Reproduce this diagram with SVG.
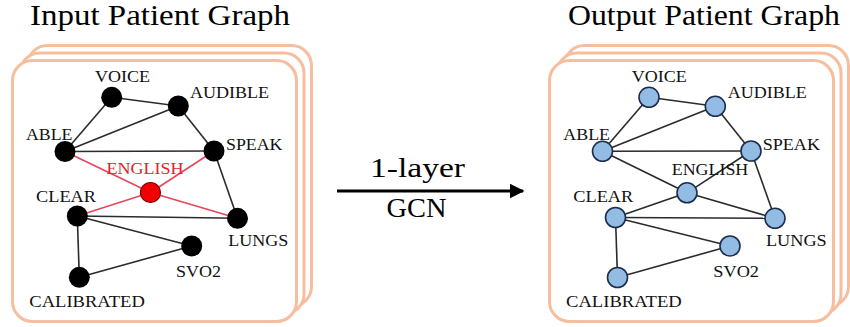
<svg xmlns="http://www.w3.org/2000/svg" width="850" height="327" viewBox="0 0 850 327">
<style>
.frame{fill:#ffffff;stroke:#F6BE9E;stroke-width:3}
.title{font-family:"Liberation Serif","Times New Roman",Times,serif;font-size:29px;fill:#000}
.lbl{font-family:"Liberation Serif","Times New Roman",Times,serif;font-size:17px;fill:#111}
.red{fill:#E5202E}
.e{stroke:#2b2b2b;stroke-width:1.6;fill:none}
.er{stroke:#E8455C;stroke-width:1.6;fill:none}
.nb{fill:#000}
.nr{fill:#F00000;stroke:#7a0000;stroke-width:1.2}
.nl{fill:#93BCE4;stroke:#1C2E4A;stroke-width:1.6}
.big{font-family:"Liberation Serif","Times New Roman",Times,serif;font-size:28px;fill:#000}
</style>
<defs>
<marker id="ah" markerWidth="5" markerHeight="5" refX="4.5" refY="2.5" orient="auto" markerUnits="strokeWidth">
<path d="M0,0 L5,2.5 L0,5 z" fill="#000"/>
</marker>
</defs>

<!-- Frames -->
<g id="input-frames">
<rect class="frame" x="27.5" y="45.5" width="284" height="261" rx="20"/>
<rect class="frame" x="20" y="53" width="284" height="261" rx="20"/>
<rect class="frame" x="12.5" y="60.5" width="284" height="261" rx="20"/>
</g>
<g id="output-frames">
<rect class="frame" x="564.5" y="45.5" width="284" height="261" rx="20"/>
<rect class="frame" x="557" y="53" width="284" height="261" rx="20"/>
<rect class="frame" x="549.5" y="60.5" width="284" height="261" rx="20"/>
</g>

<text id="title-input" class="title" x="30" y="25" textLength="260" lengthAdjust="spacingAndGlyphs">Input Patient Graph</text>
<text id="title-output" class="title" x="568" y="25" textLength="272" lengthAdjust="spacingAndGlyphs">Output Patient Graph</text>

<!-- Connectors -->
<g id="connectors">
<!-- input graph -->
<line class="e" x1="111.7" y1="97.3" x2="65" y2="151.5"/>
<line class="e" x1="111.7" y1="97.3" x2="178.3" y2="106"/>
<line class="e" x1="178.3" y1="106" x2="65" y2="151.5"/>
<line class="e" x1="178.3" y1="106" x2="214" y2="151"/>
<line class="e" x1="65" y1="151.5" x2="214" y2="151"/>
<line class="e" x1="214" y1="151" x2="237.5" y2="218.3"/>
<line class="e" x1="77.3" y1="216" x2="237.5" y2="218.3"/>
<line class="e" x1="77.3" y1="216" x2="191.7" y2="246"/>
<line class="e" x1="77.3" y1="216" x2="79.3" y2="277.3"/>
<line class="e" x1="79.3" y1="277.3" x2="191.7" y2="246"/>
<line class="er" x1="65" y1="151.5" x2="150.5" y2="192.5"/>
<line class="er" x1="150.5" y1="192.5" x2="237.5" y2="218.3"/>
<line class="er" x1="214" y1="151" x2="150.5" y2="192.5"/>
<line class="er" x1="150.5" y1="192.5" x2="77.3" y2="216"/>
<!-- output graph -->
<line class="e" x1="649" y1="97.3" x2="602.5" y2="151.3"/>
<line class="e" x1="649" y1="97.3" x2="715.3" y2="106.3"/>
<line class="e" x1="715.3" y1="106.3" x2="602.5" y2="151.3"/>
<line class="e" x1="715.3" y1="106.3" x2="751" y2="151"/>
<line class="e" x1="602.5" y1="151.3" x2="751" y2="151"/>
<line class="e" x1="751" y1="151" x2="775" y2="218.3"/>
<line class="e" x1="615.5" y1="217.5" x2="775" y2="218.3"/>
<line class="e" x1="615.5" y1="217.5" x2="730" y2="246"/>
<line class="e" x1="615.5" y1="217.5" x2="617.5" y2="277.5"/>
<line class="e" x1="617.5" y1="277.5" x2="730" y2="246"/>
<line class="e" x1="602.5" y1="151.3" x2="687" y2="192.8"/>
<line class="e" x1="687" y1="192.8" x2="775" y2="218.3"/>
<line class="e" x1="751" y1="151" x2="687" y2="192.8"/>
<line class="e" x1="687" y1="192.8" x2="615.5" y2="217.5"/>
<!-- GCN arrow -->
<line x1="337" y1="191" x2="523" y2="191" stroke="#000" stroke-width="3" marker-end="url(#ah)"/>
</g>

<text id="gcn-top" class="big" x="370" y="176.5" textLength="95" lengthAdjust="spacingAndGlyphs">1-layer</text>
<text id="gcn-bottom" class="big" x="386.5" y="217.3" textLength="60" lengthAdjust="spacingAndGlyphs">GCN</text>

<!-- Input graph nodes -->
<g id="in-voice"><circle class="nb" cx="111.7" cy="97.3" r="10.5"/><text class="lbl" x="95" y="81.7" textLength="55" lengthAdjust="spacingAndGlyphs">VOICE</text></g>
<g id="in-audible"><circle class="nb" cx="178.3" cy="106" r="10.5"/><text class="lbl" x="190" y="98.3" textLength="79" lengthAdjust="spacingAndGlyphs">AUDIBLE</text></g>
<g id="in-able"><circle class="nb" cx="65" cy="151.5" r="10.5"/><text class="lbl" x="26" y="140" textLength="46.5" lengthAdjust="spacingAndGlyphs">ABLE</text></g>
<g id="in-speak"><circle class="nb" cx="214" cy="151" r="10.5"/><text class="lbl" x="226" y="150" textLength="56.5" lengthAdjust="spacingAndGlyphs">SPEAK</text></g>
<g id="in-english"><circle class="nr" cx="150.5" cy="192.5" r="10"/><text class="lbl red" x="106.5" y="173.5" textLength="77" lengthAdjust="spacingAndGlyphs">ENGLISH</text></g>
<g id="in-clear"><circle class="nb" cx="77.3" cy="216" r="10.5"/><text class="lbl" x="36" y="201.5" textLength="60" lengthAdjust="spacingAndGlyphs">CLEAR</text></g>
<g id="in-lungs"><circle class="nb" cx="237.5" cy="218.3" r="10.5"/><text class="lbl" x="228.3" y="246" textLength="60" lengthAdjust="spacingAndGlyphs">LUNGS</text></g>
<g id="in-svo2"><circle class="nb" cx="191.7" cy="246" r="10.5"/><text class="lbl" x="176" y="277.3" textLength="45" lengthAdjust="spacingAndGlyphs">SVO2</text></g>
<g id="in-calibrated"><circle class="nb" cx="79.3" cy="277.3" r="10.5"/><text class="lbl" x="29.3" y="307.3" textLength="115.5" lengthAdjust="spacingAndGlyphs">CALIBRATED</text></g>

<!-- Output graph nodes -->
<g id="out-voice"><circle class="nl" cx="649" cy="97.3" r="10"/><text class="lbl" x="631.7" y="81.7" textLength="55" lengthAdjust="spacingAndGlyphs">VOICE</text></g>
<g id="out-audible"><circle class="nl" cx="715.3" cy="106.3" r="10"/><text class="lbl" x="727.7" y="98.3" textLength="79" lengthAdjust="spacingAndGlyphs">AUDIBLE</text></g>
<g id="out-able"><circle class="nl" cx="602.5" cy="151.3" r="10"/><text class="lbl" x="563.3" y="140" textLength="46.7" lengthAdjust="spacingAndGlyphs">ABLE</text></g>
<g id="out-speak"><circle class="nl" cx="751" cy="151" r="10"/><text class="lbl" x="762.7" y="150" textLength="57.3" lengthAdjust="spacingAndGlyphs">SPEAK</text></g>
<g id="out-english"><circle class="nl" cx="687" cy="192.8" r="10"/><text class="lbl" x="671.7" y="174.5" textLength="76.6" lengthAdjust="spacingAndGlyphs">ENGLISH</text></g>
<g id="out-clear"><circle class="nl" cx="615.5" cy="217.5" r="10"/><text class="lbl" x="573.3" y="201.5" textLength="60" lengthAdjust="spacingAndGlyphs">CLEAR</text></g>
<g id="out-lungs"><circle class="nl" cx="775" cy="218.3" r="10"/><text class="lbl" x="766" y="246" textLength="60.7" lengthAdjust="spacingAndGlyphs">LUNGS</text></g>
<g id="out-svo2"><circle class="nl" cx="730" cy="246" r="10"/><text class="lbl" x="713.3" y="277.3" textLength="45.7" lengthAdjust="spacingAndGlyphs">SVO2</text></g>
<g id="out-calibrated"><circle class="nl" cx="617.5" cy="277.5" r="10"/><text class="lbl" x="566" y="307.3" textLength="115.7" lengthAdjust="spacingAndGlyphs">CALIBRATED</text></g>
</svg>
